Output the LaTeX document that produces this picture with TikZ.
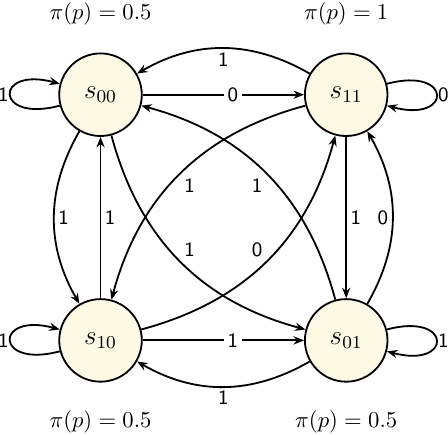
\documentclass[tikz,border=0pt]{standalone}
\usepackage{tikz}
\usetikzlibrary{arrows.meta,positioning}
\definecolor{mcInk}{HTML}{000000}
\definecolor{mcFill}{HTML}{FDF9E4}
\tikzset{
  mc state/.style={circle, draw=mcInk, line width=0.8pt, fill=mcFill,
    minimum size=12.8mm, inner sep=0pt, font=\large},
  mc edge/.style={-{Stealth[length=4.6pt,width=3.6pt]}, draw=mcInk, line width=0.8pt},
  mc label/.style={font=\small\sffamily, inner sep=1.5pt},
  mc loop label/.style={mc label, inner sep=0.4pt},
  mc on line/.style={mc label, right, fill=white},
  mc prob/.style={inner sep=0pt}
}

\begin{document}
\begin{tikzpicture}[node distance=2.5cm]
  \useasboundingbox (-1.558,1.468) rectangle (5.386,-5.259);
  % states
  \node[mc state] (s00) at (0,0) {$s_{00}$};
  \node[mc state, right=of s00] (s11) {$s_{11}$};
  \node[mc state, below=of s00] (s10) {$s_{10}$};
  \node[mc state, right=of s10] (s01) {$s_{01}$};
  % stationary values
  \node[mc prob, above=0.42cm of s00] (p00) {$\pi(p) = 0.5$};
  \node[mc prob, above=0.42cm of s11] (p11) {$\pi(p) = 1$};
  \node[mc prob, below=0.42cm of s10] (p10) {$\pi(p) = 0.5$};
  \node[mc prob, below=0.42cm of s01] (p01) {$\pi(p) = 0.5$};
  % self loops
  \draw[mc edge] (s00) to[loop left] node[mc loop label, left] {1} (s00);
  \draw[mc edge] (s11) to[loop right] node[mc loop label, right] {0} (s11);
  \draw[mc edge] (s10) to[loop left] node[mc loop label, left] {1} (s10);
  \draw[mc edge] (s01) to[loop right] node[mc loop label, right] {1} (s01);
  % straight transitions
  \draw[mc edge] (s00) -- node[mc on line] {0} (s11);
  \draw[mc edge] (s10) -- node[mc on line] {1} (s01);
  \draw[mc edge] (s10) -- node[mc label, right] {1} (s00);
  \draw[mc edge] (s11) -- node[mc label, right] {1} (s01);
  % bent transitions
  \draw[mc edge] (s11) to[bend right] node[mc label, auto] {1} (s00);
  \draw[mc edge] (s01) to[bend left] node[mc label, auto] {1} (s10);
  \draw[mc edge] (s00) to[bend right] node[mc label, auto] {1} (s10);
  \draw[mc edge] (s01) to[bend right] node[mc label, auto] {0} (s11);
  % diagonals
  \draw[mc edge] (s00) to[bend right] node[mc label, auto] {1} (s01);
  \draw[mc edge] (s11) to[bend right] node[mc label, auto] {1} (s10);
  \draw[mc edge] (s10) to[bend right] node[mc label, auto] {0} (s11);
  \draw[mc edge] (s01) to[bend right] node[mc label, auto] {1} (s00);
\end{tikzpicture}
\end{document}
